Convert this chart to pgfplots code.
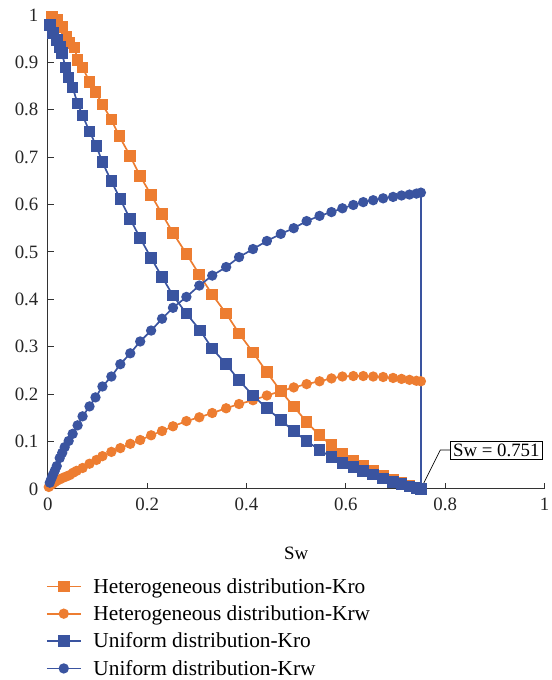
\documentclass[border=0pt]{standalone}
\usepackage{fontspec}
\setmainfont{Liberation Serif}
\usepackage{pgfplots}
\pgfplotsset{compat=1.18}
\definecolor{cor}{RGB}{237,125,49}
\definecolor{cbl}{RGB}{58,84,160}
\begin{document}
\begin{tikzpicture}
\useasboundingbox (-48bp,-192bp) rectangle (506bp,491bp);
\begin{axis}[
  scale only axis, width=499bp, height=476bp,
  xmin=0, xmax=1, ymin=0, ymax=1,
  enlargelimits=false, clip=false,
  axis x line=bottom, axis y line=left,
  axis line style={-, black!80, line width=0.8pt},
  xtick={0,0.2,0.4,0.6,0.8,1},
  ytick={0,0.1,0.2,0.3,0.4,0.5,0.6,0.7,0.8,0.9,1},
  tick align=inside, major tick length=6bp,
  tick style={black!80, line width=0.8pt},
  /pgf/number format/assume math mode=true,
  tick label style={font=\fontsize{19}{22}\selectfont, text=black!85},
  yticklabel style={xshift=-6bp},
  xticklabel style={yshift=-6bp},
  xlabel={Sw},
  xlabel style={font=\fontsize{19}{22}\selectfont, at={(axis description cs:0.5,-0.136)}, anchor=center},
  legend cell align=left,
  legend style={at={(axis description cs:-0.01,-0.180)}, anchor=north west, draw=none, fill=none,
    font=\fontsize{21.5}{25}\selectfont, row sep=7bp, column sep=10bp},
  legend image code/.code={\draw[mark repeat=2,mark phase=2] plot coordinates {(0cm,0cm) (0.6cm,0cm) (1.2cm,0cm)};},
  every axis plot/.append style={line width=1.7pt},
]
\addplot[cbl, no marks, line width=1.7pt, forget plot] coordinates {(0.751,0) (0.751,0.625)};
% Heterogeneous Kro
\addplot[cor, mark=square*, mark size=5bp, mark options={solid}] coordinates {
(0.008,0.996)(0.018,0.990)(0.028,0.975)(0.038,0.954)(0.044,0.941)(0.054,0.931)(0.060,0.905)(0.070,0.889)
(0.084,0.859)(0.096,0.838)(0.110,0.811)(0.128,0.779)(0.144,0.744)(0.166,0.702)(0.186,0.660)(0.208,0.620)
(0.230,0.580)(0.252,0.540)(0.279,0.496)(0.305,0.452)(0.331,0.410)(0.359,0.370)(0.385,0.328)(0.413,0.288)
(0.441,0.246)(0.469,0.206)(0.495,0.174)(0.521,0.141)(0.547,0.113)(0.571,0.092)(0.593,0.074)(0.615,0.059)
(0.635,0.048)(0.655,0.038)(0.675,0.028)(0.695,0.019)(0.712,0.012)(0.728,0.007)(0.742,0.003)(0.751,0.0)};
\addlegendentry{Heterogeneous distribution-Kro}
% Heterogeneous Krw
\addplot[cor, mark=*, mark size=4.3bp] coordinates {
(0.002,0.004)(0.006,0.008)(0.010,0.011)(0.014,0.014)(0.018,0.017)(0.024,0.020)(0.030,0.023)(0.037,0.026)
(0.044,0.029)(0.051,0.034)(0.058,0.038)(0.070,0.044)(0.084,0.053)(0.098,0.061)(0.110,0.069)(0.128,0.078)
(0.146,0.086)(0.166,0.095)(0.186,0.103)(0.208,0.113)(0.230,0.122)(0.252,0.132)(0.279,0.143)(0.305,0.151)
(0.331,0.160)(0.359,0.170)(0.385,0.179)(0.413,0.187)(0.441,0.197)(0.469,0.206)(0.495,0.214)(0.521,0.221)
(0.547,0.227)(0.571,0.233)(0.593,0.237)(0.615,0.238)(0.635,0.238)(0.655,0.237)(0.675,0.236)(0.695,0.234)
(0.712,0.232)(0.728,0.230)(0.742,0.228)(0.751,0.227)};
\addlegendentry{Heterogeneous distribution-Krw}
% Uniform Kro
\addplot[cbl, mark=square*, mark size=5bp] coordinates {
(0.004,0.979)(0.010,0.962)(0.018,0.947)(0.024,0.933)(0.028,0.920)(0.036,0.889)(0.042,0.868)(0.050,0.847)
(0.060,0.813)(0.070,0.788)(0.084,0.754)(0.098,0.723)(0.110,0.689)(0.128,0.649)(0.146,0.611)(0.166,0.569)
(0.186,0.529)(0.208,0.487)(0.230,0.447)(0.252,0.408)(0.279,0.370)(0.307,0.334)(0.331,0.296)(0.359,0.263)
(0.385,0.229)(0.413,0.197)(0.441,0.170)(0.469,0.145)(0.495,0.122)(0.521,0.101)(0.547,0.082)(0.571,0.067)
(0.593,0.055)(0.615,0.046)(0.635,0.038)(0.655,0.030)(0.675,0.022)(0.695,0.015)(0.712,0.010)(0.728,0.005)
(0.742,0.002)(0.751,0.0)};
\addlegendentry{Uniform distribution-Kro}
% Uniform Krw
\addplot[cbl, mark=*, mark size=4.3bp] coordinates {
(0.004,0.013)(0.007,0.021)(0.010,0.029)(0.014,0.038)(0.018,0.048)(0.024,0.065)(0.029,0.076)(0.034,0.088)
(0.042,0.101)(0.050,0.116)(0.060,0.134)(0.070,0.153)(0.084,0.174)(0.096,0.193)(0.110,0.216)(0.128,0.237)
(0.146,0.263)(0.166,0.286)(0.186,0.311)(0.208,0.334)(0.230,0.359)(0.252,0.382)(0.279,0.405)(0.305,0.429)
(0.331,0.450)(0.359,0.468)(0.385,0.489)(0.413,0.506)(0.441,0.523)(0.469,0.538)(0.495,0.550)(0.521,0.565)
(0.547,0.576)(0.571,0.584)(0.593,0.592)(0.615,0.599)(0.635,0.605)(0.655,0.609)(0.675,0.613)(0.695,0.616)
(0.712,0.619)(0.728,0.621)(0.742,0.623)(0.751,0.625)};
\addlegendentry{Uniform distribution-Krw}
\draw[black, line width=0.7pt] (axis cs:0.751,0) -- (axis cs:0.79,0.082) -- (axis cs:0.81,0.082);
\node[draw=black, line width=0.7pt, fill=white, inner sep=2.5bp, anchor=west, font=\fontsize{19}{22}\selectfont] at (axis cs:0.81,0.082) {Sw = 0.751};
\end{axis}
\end{tikzpicture}
\end{document}
